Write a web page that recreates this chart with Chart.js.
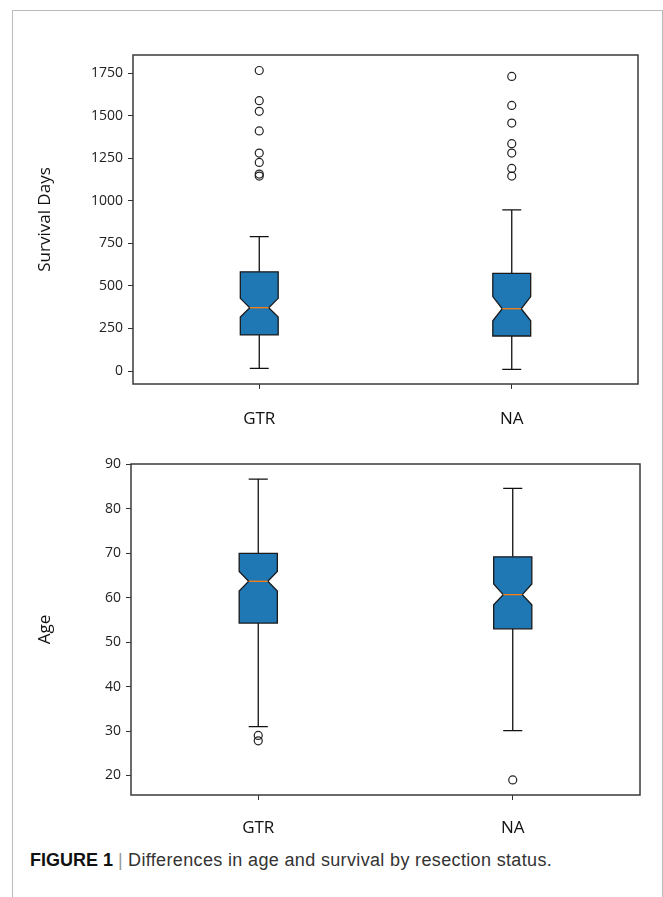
<!DOCTYPE html>
<html>
<head>
<meta charset="utf-8">
<script src="https://cdn.jsdelivr.net/npm/chart.js@4.4.0/dist/chart.umd.min.js"></script>
<style>
	body { margin: 0; background: #fff; }
	#page { position: relative; width: 663px; height: 897px; overflow: hidden; }
	#frame { position: absolute; left: 12px; top: 10px; width: 649px; height: 900px;
		border-left: 1px solid #bbb; border-top: 1px solid #bbb; border-right: 1px solid #bbb; }
	canvas { position: absolute; left: 0; }
	#caption { position: absolute; left: 30px; top: 850px; white-space: nowrap; letter-spacing: 0.35px;
		font-family: 'Liberation Sans', sans-serif; font-size: 18px; color: #333; }
	#caption b { color: #111; letter-spacing: 0; }
	#caption .sep { color: #999; padding: 0 5px; }
</style>
</head>
<body>
<div id="page">
	<div id="frame"></div>
	<canvas id="survivalChart" width="663" height="440" style="top:0"></canvas>
	<canvas id="ageChart" width="663" height="410" style="top:440px"></canvas>
	<div id="caption"><b>FIGURE 1</b><span class="sep">|</span>Differences in age and survival by resection status.</div>
</div>
<script>
const categories = ['GTR', 'NA'];

// survival days (top panel)
const survivalTicks = [0, 250, 500, 750, 1000, 1250, 1500, 1750];
const survivalQ1 = [212, 206];
const survivalMedian = [372, 366];
const survivalQ3 = [583, 574];
const survivalNotchLow = [317, 295];
const survivalNotchHigh = [427, 437];
const survivalWhiskerLow = [16, 10];
const survivalWhiskerHigh = [790, 946];
const survivalOutliers = [
	[1765, 1588, 1525, 1410, 1280, 1225, 1157, 1145],
	[1730, 1560, 1456, 1335, 1280, 1190, 1145],
];

// age (bottom panel)
const ageTicks = [20, 30, 40, 50, 60, 70, 80, 90];
const ageQ1 = [54.3, 53];
const ageMedian = [63.7, 60.7];
const ageQ3 = [70, 69.2];
const ageNotchLow = [61.5, 58.4];
const ageNotchHigh = [65.9, 63.1];
const ageWhiskerLow = [31, 30.1];
const ageWhiskerHigh = [86.7, 84.6];
const ageOutliers = [[29, 27.8], [19]];

const BOX_WIDTH = 0.15;
const FONT = "'Open Sans', sans-serif";

function boxPlugin(stats) {
	return {
		id: 'notchBox',
		beforeDatasetsDraw(chart) {
			const { ctx, scales: { x, y } } = chart;
			const py = (v) => y.getPixelForValue(v);
			ctx.save();
			stats.q1.forEach((_, i) => {
				const cx = x.getPixelForValue(i + 1);
				const hw = x.getPixelForValue(i + 1 + BOX_WIDTH / 2) - cx;
				const cw = hw / 2;
				// whiskers + caps
				ctx.strokeStyle = '#111';
				ctx.lineWidth = 1.3;
				ctx.beginPath();
				ctx.moveTo(cx, py(stats.q3[i]));
				ctx.lineTo(cx, py(stats.whiskerHigh[i]));
				ctx.moveTo(cx, py(stats.q1[i]));
				ctx.lineTo(cx, py(stats.whiskerLow[i]));
				ctx.moveTo(cx - cw, py(stats.whiskerHigh[i]));
				ctx.lineTo(cx + cw, py(stats.whiskerHigh[i]));
				ctx.moveTo(cx - cw, py(stats.whiskerLow[i]));
				ctx.lineTo(cx + cw, py(stats.whiskerLow[i]));
				ctx.stroke();
				// notched box
				ctx.beginPath();
				ctx.moveTo(cx - hw, py(stats.q1[i]));
				ctx.lineTo(cx + hw, py(stats.q1[i]));
				ctx.lineTo(cx + hw, py(stats.notchLow[i]));
				ctx.lineTo(cx + cw, py(stats.median[i]));
				ctx.lineTo(cx + hw, py(stats.notchHigh[i]));
				ctx.lineTo(cx + hw, py(stats.q3[i]));
				ctx.lineTo(cx - hw, py(stats.q3[i]));
				ctx.lineTo(cx - hw, py(stats.notchHigh[i]));
				ctx.lineTo(cx - cw, py(stats.median[i]));
				ctx.lineTo(cx - hw, py(stats.notchLow[i]));
				ctx.closePath();
				ctx.fillStyle = '#1f77b4';
				ctx.fill();
				ctx.strokeStyle = '#1a1a1a';
				ctx.stroke();
				// median
				ctx.strokeStyle = '#ff7f0e';
				ctx.lineWidth = 1.3;
				ctx.beginPath();
				ctx.moveTo(cx - cw, py(stats.median[i]));
				ctx.lineTo(cx + cw, py(stats.median[i]));
				ctx.stroke();
			});
			ctx.restore();
		},
		afterDraw(chart) {
			const { ctx, chartArea: a } = chart;
			ctx.save();
			ctx.strokeStyle = '#3a3a3a';
			ctx.lineWidth = 1.5;
			ctx.strokeRect(a.left, a.top, a.right - a.left, a.bottom - a.top);
			ctx.restore();
		},
	};
}

function initBoxChart(el, cfg) {
	const points = cfg.outliers.flatMap((vals, i) => vals.map((v) => ({ x: i + 1, y: v })));
	return new Chart(el, {
		type: 'scatter',
		data: {
			datasets: [
				{
					data: points,
					pointRadius: 4,
					pointHoverRadius: 4,
					pointBorderWidth: 1.2,
					borderColor: '#222',
					backgroundColor: 'rgba(0,0,0,0)',
				},
			],
		},
		options: {
			responsive: false,
			animation: false,
			devicePixelRatio: 1,
			layout: { padding: cfg.padding },
			plugins: { legend: { display: false }, tooltip: { enabled: false } },
			scales: {
				x: {
					type: 'linear',
					min: 0.5,
					max: 2.5,
					afterBuildTicks: (s) => { s.ticks = categories.map((c, i) => ({ value: i + 1 })); },
					afterFit: (s) => { s.height = cfg.xHeight; },
					border: { display: false },
					grid: { drawOnChartArea: false, tickLength: 5, color: '#333' },
					ticks: {
						callback: (v) => categories[v - 1],
						font: { family: FONT, size: 17 },
						color: '#111',
						padding: cfg.xPad,
						maxRotation: 0,
					},
				},
				y: {
					min: cfg.min,
					max: cfg.max,
					afterBuildTicks: (s) => { s.ticks = cfg.ticks.map((v) => ({ value: v })); },
					afterFit: (s) => { s.width = cfg.yWidth; },
					border: { display: false },
					grid: { drawOnChartArea: false, tickLength: 5, color: '#333' },
					ticks: {
						callback: (v) => String(v),
						font: { family: FONT, size: 14 },
						color: '#222',
						padding: 5,
					},
					title: { display: true, text: cfg.title, font: { family: FONT, size: 17 }, color: '#111' },
				},
			},
		},
		plugins: [boxPlugin(cfg.stats)],
	});
}

initBoxChart(document.getElementById('survivalChart'), {
	title: 'Survival Days',
	min: -76,
	max: 1856,
	ticks: survivalTicks,
	outliers: survivalOutliers,
	padding: { left: 31, top: 55, right: 25, bottom: 0 },
	yWidth: 102,
	xHeight: 56,
	xPad: 20,
	stats: {
		q1: survivalQ1, median: survivalMedian, q3: survivalQ3,
		notchLow: survivalNotchLow, notchHigh: survivalNotchHigh,
		whiskerLow: survivalWhiskerLow, whiskerHigh: survivalWhiskerHigh,
	},
});

initBoxChart(document.getElementById('ageChart'), {
	title: 'Age',
	min: 15.6,
	max: 90.1,
	ticks: ageTicks,
	outliers: ageOutliers,
	padding: { left: 31, top: 24, right: 23, bottom: 0 },
	yWidth: 100,
	xHeight: 55,
	xPad: 18,
	stats: {
		q1: ageQ1, median: ageMedian, q3: ageQ3,
		notchLow: ageNotchLow, notchHigh: ageNotchHigh,
		whiskerLow: ageWhiskerLow, whiskerHigh: ageWhiskerHigh,
	},
});
</script>
</body>
</html>
